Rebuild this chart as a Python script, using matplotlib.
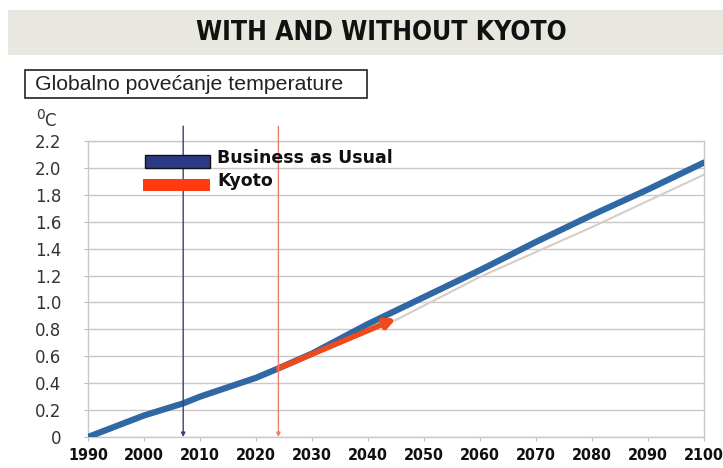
import matplotlib
matplotlib.use("Agg")
import matplotlib.pyplot as plt
from matplotlib.patches import Rectangle

# ---- data ----
bau_years = [1990, 2000, 2007, 2010, 2020, 2024, 2030, 2040, 2045, 2050, 2060, 2070, 2080, 2090, 2100]
bau_vals = [0.0, 0.16, 0.25, 0.30, 0.44, 0.51, 0.62, 0.84, 0.94, 1.04, 1.24, 1.45, 1.65, 1.84, 2.04]
kyoto_years = [2024, 2045]
kyoto_vals = [0.51, 0.88]
grey_years = [2024, 2045, 2060, 2080, 2100]
grey_vals = [0.50, 0.87, 1.19, 1.56, 1.95]
marker_years = [2007, 2024]
yticks = [0, 0.2, 0.4, 0.6, 0.8, 1.0, 1.2, 1.4, 1.6, 1.8, 2.0, 2.2]
ytick_labels = ["0", "0.2", "0.4", "0.6", "0.8", "1.0", "1.2", "1.4", "1.6", "1.8", "2.0", "2.2"]
xticks = [1990, 2000, 2010, 2020, 2030, 2040, 2050, 2060, 2070, 2080, 2090, 2100]
title = "WITH AND WITHOUT KYOTO"
subtitle = "Globalno povećanje temperature"
legend_labels = ["Business as Usual", "Kyoto"]

W, H = 723, 468
fig = plt.figure(figsize=(W / 100, H / 100), dpi=100)
fig.patch.set_facecolor("white")

# overlay in pixel coordinates for decorations
ov = fig.add_axes([0, 0, 1, 1], zorder=0)
ov.set_xlim(0, W)
ov.set_ylim(H, 0)
ov.axis("off")
ov.add_patch(Rectangle((8, 10), W - 8, 45, facecolor="#e8e8e0", edgecolor="none"))
ov.text(381, 33, title, ha="center", va="center", fontsize=19, fontweight="heavy",
        family="DejaVu Sans", fontstretch="condensed", color="#111111")
ov.add_patch(Rectangle((25, 70), 342, 28, facecolor="white", edgecolor="#222222", lw=1.2))
ov.text(35, 85, subtitle, ha="left", va="center", fontsize=15.3, family="Liberation Sans", color="#222222")
ov.text(36, 115, "0", ha="left", va="center", fontsize=10, family="DejaVu Sans", color="#333333")
ov.text(44, 121, "C", ha="left", va="center", fontsize=12, family="DejaVu Sans", color="#333333")

# main axes
ax = fig.add_axes([88 / W, (H - 437) / H, (704 - 88) / W, (437 - 141) / H], zorder=1)
ax.patch.set_alpha(0)
ax.set_xlim(1990, 2100)
ax.set_ylim(0, 2.2)
ax.set_yticks(yticks)
ax.set_yticklabels(ytick_labels, fontsize=12, color="#333333", family="DejaVu Sans")
ax.set_xticks(xticks)
ax.set_xticklabels([str(x) for x in xticks], fontsize=11.5, fontweight="bold", color="#111111",
                   family="DejaVu Sans", fontstretch="condensed")
ax.tick_params(axis="both", color="#bbbbbb", length=3, width=0.8)
ax.tick_params(axis="x", pad=5)
ax.tick_params(axis="y", pad=16)
ax.grid(axis="y", color="#c8c8c8", lw=1)
ax.set_axisbelow(True)
for s in ax.spines.values():
    s.set_color("#c8c8c8")
    s.set_linewidth(1)

ax.plot(grey_years, grey_vals, color="#d8ccc8", lw=1.5, zorder=2)
ax.plot(bau_years, bau_vals, color="#2f68a3", lw=4.5, solid_capstyle="round",
        solid_joinstyle="round", zorder=3)
ax.annotate("", xy=(kyoto_years[1], kyoto_vals[1]), xytext=(kyoto_years[0], kyoto_vals[0]),
            arrowprops=dict(arrowstyle="-|>", color="#ee4a1c", lw=4, mutation_scale=14,
                            shrinkA=0, shrinkB=0), zorder=4)

vcolors = ["#3b3f78", "#e8806c"]
for yr, c in zip(marker_years, vcolors):
    ax.annotate("", xy=(yr, 0), xytext=(yr, 2.31), annotation_clip=False,
                arrowprops=dict(arrowstyle="-|>", color=c, lw=1, mutation_scale=6,
                                shrinkA=0, shrinkB=0), zorder=5)

# legend
ov2 = fig.add_axes([0, 0, 1, 1], zorder=6)
ov2.set_xlim(0, W)
ov2.set_ylim(H, 0)
ov2.axis("off")
ov2.add_patch(Rectangle((145, 155), 65, 13, facecolor="#2b3a86", edgecolor="#111111", lw=1))
ov2.add_patch(Rectangle((143, 179), 67, 12, facecolor="#ff3a10", edgecolor="none"))
ov2.text(217, 158, legend_labels[0], ha="left", va="center", fontsize=12.5, fontweight="bold", color="#111111")
ov2.text(217, 181, legend_labels[1], ha="left", va="center", fontsize=12.5, fontweight="bold", color="#111111")

fig.savefig("out.png", dpi=100)
